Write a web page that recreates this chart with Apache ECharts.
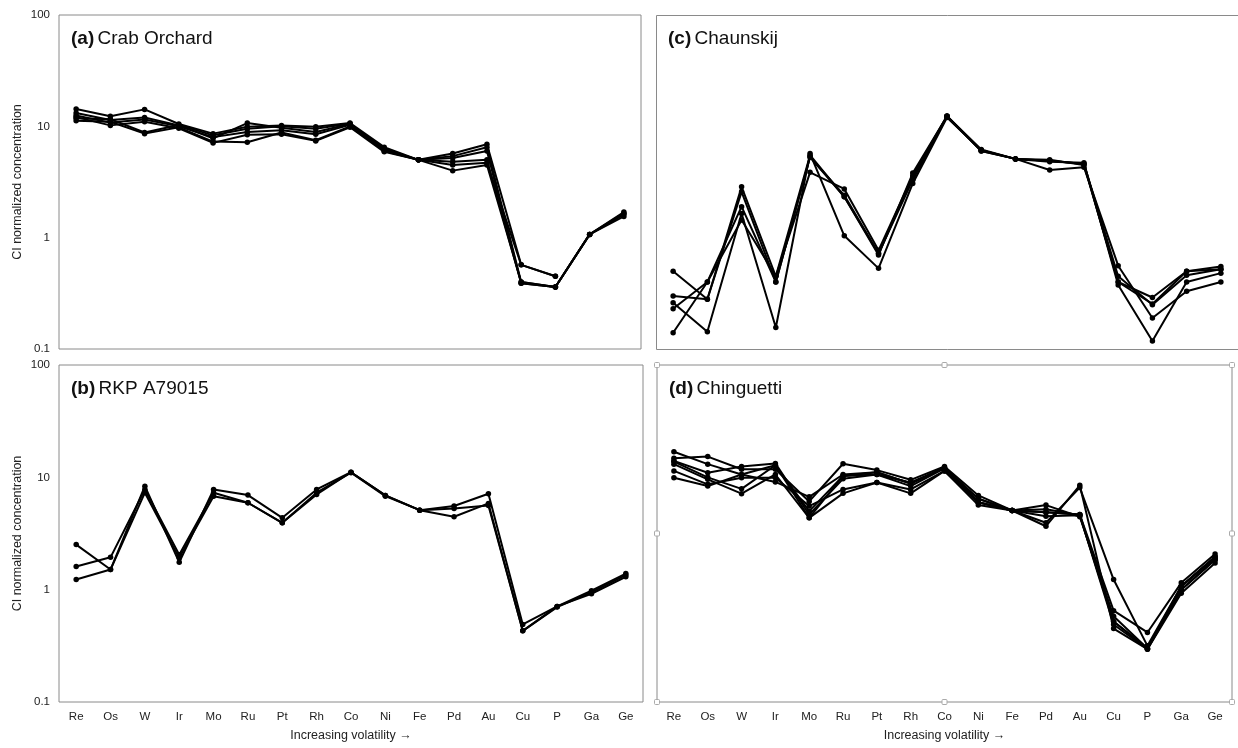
<!DOCTYPE html>
<html>
<head>
<meta charset="utf-8">
<script src="https://cdn.jsdelivr.net/npm/echarts@6/dist/echarts.min.js"></script>
<style>
  html, body { margin: 0; padding: 0; background: #fff; }
  #chart { width: 1238px; height: 748px; }
</style>
</head>
<body>
<div id="chart"></div>
<script>
// Elements ordered by increasing volatility
const elements = ['Re', 'Os', 'W', 'Ir', 'Mo', 'Ru', 'Pt', 'Rh', 'Co', 'Ni', 'Fe', 'Pd', 'Au', 'Cu', 'P', 'Ga', 'Ge'];

// CI-normalized concentrations, one row per analysed fragment
const crabOrchard = [
  [14.3, 12.3, 14.2, 10.5, 8.6, 9.9, 10.2, 9.9, 10.7, 6.5, 5.0, 5.7, 6.9, 0.57, 0.45, null, null],
  [13.2, 11.4, 12.0, 10.2, 7.8, 10.7, 9.7, 8.9, 10.5, 6.2, 5.0, 5.2, 6.0, 0.39, 0.36, 1.07, 1.70],
  [12.1, 10.2, 11.0, 9.6, 7.1, 8.4, 8.5, 7.4, 9.8, 5.9, 5.0, 4.0, 4.5, 0.40, 0.36, 1.07, 1.62],
  [11.2, 11.0, 8.6, 9.8, 7.3, 7.2, 8.8, 7.5, 10.0, 6.0, 5.0, 4.5, 4.7, 0.57, 0.45, null, null],
  [12.5, 10.8, 11.5, 10.0, 8.0, 8.9, 9.2, 8.5, 10.3, 6.3, 5.0, 4.8, 5.0, 0.39, 0.36, 1.07, 1.55],
  [11.8, 11.6, 8.8, 10.3, 8.3, 9.5, 10.0, 9.5, 10.6, 6.1, 5.0, 5.4, 6.5, 0.40, 0.36, 1.07, 1.66]
];

const rkpA79015 = [
  [2.52, 1.51, 8.35, 1.75, 7.8, 6.95, 4.36, 7.8, 11.1, 6.9, 5.1, 5.55, 7.15, 0.49, 0.71, 0.98, 1.39],
  [1.61, 1.94, 7.8, 2.05, 7.3, 5.94, 3.94, 7.05, 11.1, 6.9, 5.1, 4.46, 5.86, 0.43, 0.71, 0.92, 1.30],
  [1.23, 1.51, 7.3, 1.92, 6.8, 5.94, 3.94, 7.3, 11.0, 6.8, 5.1, 5.28, 5.62, 0.43, 0.70, 0.95, 1.35]
];

const chaunskij = [
  [0.50, 0.28, 2.86, 0.45, 5.5, 2.33, 0.72, 3.5, 12.3, 6.2, 5.1, 4.9, 4.6, 0.45, 0.25, 0.46, 0.52],
  [0.30, 0.28, 2.58, 0.40, 5.3, 2.40, 0.72, 3.3, 12.3, 6.0, 5.1, 5.0, 4.5, 0.40, 0.29, 0.50, 0.55],
  [0.26, 0.143, 1.65, 0.156, 5.7, 1.04, 0.53, 3.07, 12.0, 6.1, 5.1, 4.05, 4.3, 0.56, 0.19, 0.33, 0.40],
  [0.23, 0.40, 1.90, 0.40, 5.3, 2.33, 0.70, 3.8, 12.3, 6.1, 5.1, 4.8, 4.7, 0.375, 0.118, 0.40, 0.48],
  [0.14, 0.40, 1.44, 0.45, 3.86, 2.74, 0.77, 3.6, 12.4, 6.0, 5.1, 4.9, 4.6, 0.40, 0.254, 0.50, 0.52]
];

const chinguetti = [
  [16.9, 13.1, 10.6, 12.8, 5.0, 10.3, 11.1, 8.8, 12.2, 6.45, 5.07, 4.9, 4.67, 0.52, 0.30, 1.07, 1.96],
  [14.8, 15.3, 11.8, 11.8, 6.1, 13.2, 11.6, 9.5, 12.5, 6.9, 5.07, 5.66, 4.46, 0.58, 0.30, 1.00, 1.85],
  [14.0, 11.0, 12.5, 13.3, 4.67, 9.7, 10.6, 8.36, 12.0, 6.0, 5.07, 4.5, 4.6, 0.49, 0.295, 1.00, 1.85],
  [13.1, 9.6, 7.15, 10.6, 4.36, 7.2, 9.0, 7.2, 11.4, 5.66, 5.07, 3.94, 8.1, 1.23, 0.316, 1.07, 1.96],
  [11.4, 8.66, 9.9, 9.9, 5.55, 7.8, 9.0, 7.8, 11.4, 6.0, 5.07, 3.67, 8.5, 0.45, 0.295, 0.93, 1.73],
  [9.9, 8.36, 10.6, 9.1, 6.7, 10.6, 11.1, 8.8, 12.0, 6.45, 5.07, 4.9, 4.67, 0.65, 0.416, 1.15, 2.08],
  [13.8, 10.0, 7.9, 12.8, 4.36, 10.3, 10.6, 9.0, 12.2, 6.0, 5.07, 5.2, 4.6, 0.52, 0.30, 1.07, 1.90]
];

const panelTags = ['(a)', '(b)', '(c)', '(d)'];
const panelNames = ['Crab Orchard', 'RKP A79015', 'Chaunskij', 'Chinguetti'];
const yAxisTitle = 'CI normalized concentration';
const xAxisTitle = 'Increasing volatility \u2192';

const FONT = '"Liberation Sans", Arial, Helvetica, sans-serif';
const BORDER = '#8a8a8a';
const chart = echarts.init(document.getElementById('chart'), null, { renderer: 'canvas' });

// Panel boxes: a (top-left), b (bottom-left), c (top-right, runs past the right edge), d (bottom-right)
const boxes = [
  { left: 59, top: 15, width: 582, height: 334 },
  { left: 59, top: 365, width: 584, height: 337 },
  { left: 656, top: 15, width: 584, height: 334 },
  { left: 657, top: 365, width: 575, height: 337 }
];
const panelData = [crabOrchard, rkpA79015, chaunskij, chinguetti];

// Panel (c) is open on the right, so its frame is drawn separately
const grids = boxes.map((b, i) => Object.assign({
  show: i !== 2, borderColor: BORDER, borderWidth: 1, backgroundColor: '#fff', containLabel: false
}, b));

const xAxes = boxes.map((b, i) => {
  const bottomRow = (i === 1 || i === 3);
  return {
    type: 'category', gridIndex: i, data: elements, boundaryGap: true,
    axisLine: { show: false }, axisTick: { show: false }, splitLine: { show: false },
    axisLabel: { show: bottomRow, color: '#222', fontSize: 11.5, fontFamily: FONT, margin: 9, interval: 0 },
    name: bottomRow ? xAxisTitle : '', nameLocation: 'middle', nameGap: 27,
    nameTextStyle: { color: '#222', fontSize: 12.5, fontFamily: FONT }
  };
});

const yAxes = boxes.map((b, i) => {
  const leftCol = (i === 0 || i === 1);
  return {
    type: 'log', logBase: 10, min: 0.1, max: 100, gridIndex: i,
    axisLine: { show: false }, axisTick: { show: false }, splitLine: { show: false },
    axisLabel: {
      show: leftCol, color: '#222', fontSize: 11.5, fontFamily: FONT, margin: 9,
      formatter: v => (v < 1 ? v.toFixed(1) : String(Math.round(v)))
    },
    name: leftCol ? yAxisTitle : '', nameLocation: 'middle', nameGap: 35, nameRotate: 90,
    nameTextStyle: { color: '#222', fontSize: 12.5, fontFamily: FONT }
  };
});

const series = [];
panelData.forEach((rows, p) => {
  rows.forEach((row, k) => {
    series.push({
      type: 'line', name: panelNames[p] + ' ' + (k + 1),
      xAxisIndex: p, yAxisIndex: p, data: row,
      connectNulls: false, symbol: 'circle', symbolSize: 5.5, showSymbol: true,
      lineStyle: { color: '#000', width: 2 },
      itemStyle: { color: '#000' },
      emphasis: { disabled: true }, animation: false, z: 3
    });
  });
});

// Panel headings: bold tag followed by the meteorite name
const headings = boxes.map((b, i) => ({
  type: 'text', left: b.left + 12, top: b.top + 14, z: 10,
  style: {
    text: '{t|' + panelTags[i] + '} {n|' + panelNames[i] + '}',
    rich: {
      t: { fontSize: 19, fontWeight: 'bold', fontFamily: FONT, fill: '#111' },
      n: { fontSize: 19, fontFamily: FONT, fill: '#111' }
    }
  }
}));

// Open frame of panel (c): top, left and bottom edges
const c = boxes[2];
const frameC = {
  type: 'polyline', z: 1, silent: true,
  shape: { points: [
    [c.left + c.width, c.top + 0.5], [c.left + 0.5, c.top + 0.5],
    [c.left + 0.5, c.top + c.height + 0.5], [c.left + c.width, c.top + c.height + 0.5]
  ] },
  style: { stroke: BORDER, lineWidth: 1, fill: null }
};

// Small selection handles drawn around panel (d)
const d = boxes[3];
const handlePts = [
  [d.left, d.top], [d.left + d.width / 2, d.top], [d.left + d.width, d.top],
  [d.left, d.top + d.height / 2], [d.left + d.width, d.top + d.height / 2],
  [d.left, d.top + d.height], [d.left + d.width / 2, d.top + d.height], [d.left + d.width, d.top + d.height]
];
const handles = handlePts.map(pt => ({
  type: 'rect', z: 12,
  shape: { x: pt[0] - 2.5, y: pt[1] - 2.5, width: 5, height: 5, r: 1 },
  style: { fill: '#fff', stroke: '#aaa', lineWidth: 1 }
}));

chart.setOption({
  backgroundColor: '#fff',
  animation: false,
  grid: grids,
  xAxis: xAxes,
  yAxis: yAxes,
  series: series,
  graphic: headings.concat([frameC], handles)
});
</script>
</body>
</html>
